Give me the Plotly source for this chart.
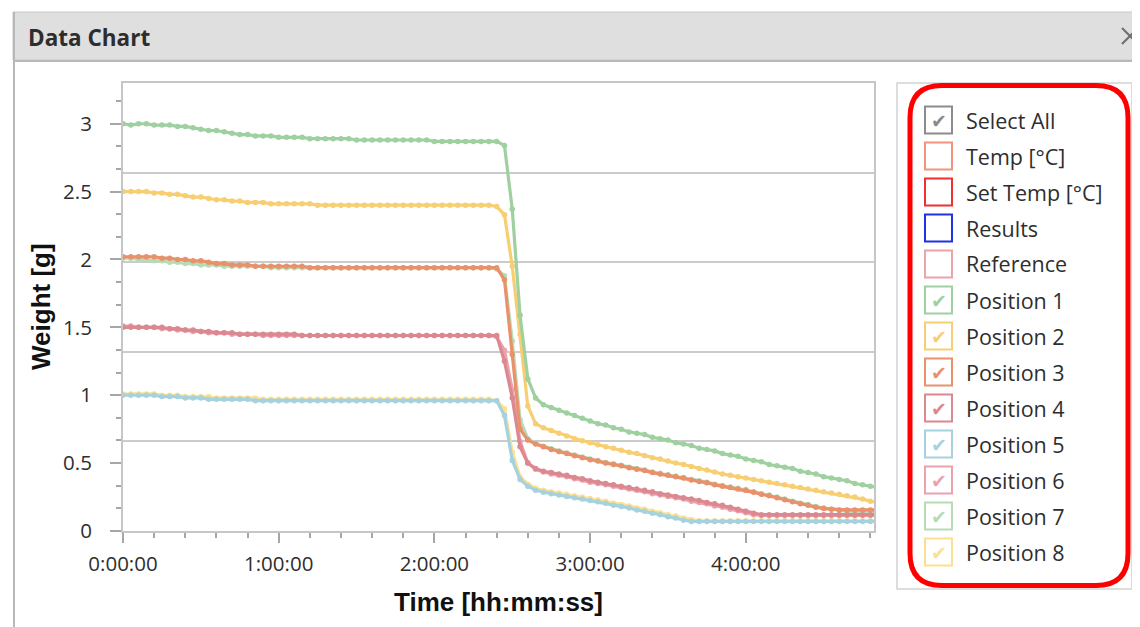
import pandas as pd
import plotly.graph_objects as go

# ---------------- data ----------------
TIME_MIN = [0, 3, 6, 9, 12, 15, 18, 21, 24, 27, 30, 33, 36, 39, 42, 45, 48, 51, 54, 57,
            60, 63, 66, 69, 72, 75, 78, 81, 84, 87, 90, 93, 96, 99, 102, 105, 108, 111, 114, 117,
            120, 123, 126, 129, 132, 135, 138, 141, 144, 147, 150, 153, 156, 159, 162, 165, 168, 171, 174, 177,
            180, 183, 186, 189, 192, 195, 198, 201, 204, 207, 210, 213, 216, 219, 222, 225, 228, 231, 234, 237,
            240, 243, 246, 249, 252, 255, 258, 261, 264, 267, 270, 273, 276, 279, 282, 285, 288, 291]

POS1 = [3.00, 2.99, 3.00, 3.00, 2.99, 2.99, 2.99, 2.98, 2.98, 2.97, 2.96, 2.95, 2.95, 2.94, 2.93, 2.92, 2.92, 2.91, 2.91, 2.91,
        2.90, 2.90, 2.90, 2.90, 2.89, 2.89, 2.89, 2.89, 2.89, 2.89, 2.88, 2.88, 2.88, 2.88, 2.88, 2.88, 2.88, 2.88, 2.88, 2.88,
        2.87, 2.87, 2.87, 2.87, 2.87, 2.87, 2.87, 2.87, 2.87,
        2.84, 2.37, 1.59, 1.12, 0.98, 0.93,
        0.91, 0.89, 0.87, 0.85, 0.83, 0.81, 0.79, 0.78, 0.76, 0.75, 0.73, 0.72, 0.71, 0.69, 0.68, 0.67, 0.65, 0.64, 0.63, 0.61,
        0.60, 0.59, 0.57, 0.56, 0.55, 0.53, 0.52, 0.51, 0.49, 0.48, 0.47, 0.46, 0.44, 0.43, 0.42, 0.40, 0.39, 0.38, 0.37, 0.35,
        0.34, 0.33, 0.32]

POS2 = [2.50, 2.50, 2.50, 2.50, 2.49, 2.49, 2.48, 2.48, 2.47, 2.46, 2.46, 2.45, 2.44, 2.44, 2.43, 2.43, 2.42, 2.42, 2.42, 2.41,
        2.41, 2.41, 2.41, 2.41, 2.41, 2.40, 2.40, 2.40, 2.40, 2.40, 2.40, 2.40, 2.40, 2.40, 2.40, 2.40, 2.40, 2.40, 2.40, 2.40,
        2.40, 2.40, 2.40, 2.40, 2.40, 2.40, 2.40, 2.40, 2.39,
        2.33, 1.95, 1.45, 0.92, 0.79, 0.76,
        0.74, 0.72, 0.70, 0.68, 0.665, 0.65, 0.635, 0.62, 0.61, 0.595, 0.58, 0.57, 0.555, 0.54, 0.53, 0.515, 0.50, 0.49, 0.475, 0.46,
        0.45, 0.435, 0.42, 0.41, 0.40, 0.39, 0.38, 0.37, 0.36, 0.35, 0.34, 0.33, 0.32, 0.31, 0.30, 0.29, 0.28, 0.27, 0.26, 0.25,
        0.235, 0.22, 0.21]

POS3 = [2.02, 2.02, 2.02, 2.02, 2.02, 2.01, 2.01, 2.00, 2.00, 1.99, 1.99, 1.98, 1.97, 1.97, 1.96, 1.96, 1.96, 1.95, 1.95, 1.95,
        1.95, 1.95, 1.95, 1.95, 1.94, 1.94, 1.94, 1.94, 1.94, 1.94, 1.94, 1.94, 1.94, 1.94, 1.94, 1.94, 1.94, 1.94, 1.94, 1.94,
        1.94, 1.94, 1.94, 1.94, 1.94, 1.94, 1.94, 1.94, 1.94,
        1.85, 1.30, 0.75, 0.67, 0.64, 0.62,
        0.60, 0.585, 0.57, 0.555, 0.54, 0.525, 0.515, 0.50, 0.49, 0.48, 0.465, 0.455, 0.445, 0.43, 0.42, 0.41, 0.40, 0.39, 0.375, 0.365,
        0.355, 0.34, 0.33, 0.32, 0.31, 0.30, 0.285, 0.27, 0.26, 0.245, 0.23, 0.215, 0.20, 0.19, 0.175, 0.165, 0.16, 0.155, 0.155, 0.155,
        0.155, 0.155, 0.155]

POS4 = [1.50, 1.50, 1.50, 1.50, 1.50, 1.50, 1.49, 1.49, 1.48, 1.48, 1.47, 1.47, 1.46, 1.46, 1.46, 1.45, 1.45, 1.45, 1.45, 1.45,
        1.45, 1.45, 1.45, 1.44, 1.44, 1.44, 1.44, 1.44, 1.44, 1.44, 1.44, 1.44, 1.44, 1.44, 1.44, 1.44, 1.44, 1.44, 1.44, 1.44,
        1.44, 1.44, 1.44, 1.44, 1.44, 1.44, 1.44, 1.44, 1.44,
        1.25, 0.98, 0.62, 0.50, 0.46, 0.44,
        0.43, 0.42, 0.41, 0.395, 0.385, 0.37, 0.36, 0.35, 0.34, 0.33, 0.32, 0.31, 0.30, 0.29, 0.275, 0.265, 0.255, 0.245, 0.235, 0.225,
        0.21, 0.20, 0.19, 0.175, 0.16, 0.145, 0.13, 0.12, 0.12, 0.12, 0.12, 0.12, 0.12, 0.12, 0.12, 0.12, 0.12, 0.12, 0.12, 0.12,
        0.12, 0.12, 0.12]

POS5 = [1.00, 1.00, 1.00, 1.00, 1.00, 0.99, 0.99, 0.99, 0.98, 0.98, 0.98, 0.97, 0.97, 0.97, 0.97, 0.97, 0.97, 0.96, 0.96, 0.96,
        0.96, 0.96, 0.96, 0.96, 0.96, 0.96, 0.96, 0.96, 0.96, 0.96, 0.96, 0.96, 0.96, 0.96, 0.96, 0.96, 0.96, 0.96, 0.96, 0.96,
        0.96, 0.96, 0.96, 0.96, 0.96, 0.96, 0.96, 0.96, 0.96,
        0.85, 0.52, 0.38, 0.33, 0.30, 0.285,
        0.275, 0.265, 0.255, 0.245, 0.235, 0.225, 0.215, 0.205, 0.19, 0.18, 0.17, 0.155, 0.145, 0.13, 0.12, 0.105, 0.095, 0.08, 0.07, 0.07,
        0.07, 0.07, 0.07, 0.07, 0.07, 0.07, 0.07, 0.07, 0.07, 0.07, 0.07, 0.07, 0.07, 0.07, 0.07, 0.07, 0.07, 0.07, 0.07, 0.07,
        0.07, 0.07, 0.07]

POS6 = [1.51, 1.51, 1.50, 1.50, 1.50, 1.49, 1.49, 1.48, 1.48, 1.47, 1.47, 1.46, 1.46, 1.46, 1.45, 1.45, 1.45, 1.45, 1.44, 1.44,
        1.44, 1.44, 1.44, 1.44, 1.44, 1.44, 1.44, 1.44, 1.44, 1.44, 1.44, 1.44, 1.44, 1.44, 1.44, 1.44, 1.44, 1.44, 1.44, 1.44,
        1.44, 1.44, 1.44, 1.44, 1.44, 1.44, 1.44, 1.44, 1.43,
        1.33, 1.04, 0.66, 0.50, 0.455, 0.435,
        0.42, 0.41, 0.40, 0.385, 0.375, 0.36, 0.35, 0.34, 0.33, 0.32, 0.31, 0.30, 0.29, 0.275, 0.265, 0.255, 0.245, 0.235, 0.22, 0.21,
        0.20, 0.185, 0.175, 0.16, 0.15, 0.135, 0.12, 0.115, 0.115, 0.115, 0.115, 0.115, 0.115, 0.115, 0.115, 0.115, 0.115, 0.115, 0.115, 0.115,
        0.115, 0.115, 0.115]

POS7 = [2.01, 2.01, 2.00, 2.00, 1.99, 1.99, 1.98, 1.98, 1.97, 1.97, 1.96, 1.96, 1.96, 1.95, 1.95, 1.95, 1.95, 1.95, 1.95, 1.94,
        1.94, 1.94, 1.94, 1.94, 1.94, 1.94, 1.94, 1.94, 1.94, 1.94, 1.94, 1.94, 1.94, 1.94, 1.94, 1.94, 1.94, 1.94, 1.94, 1.94,
        1.94, 1.94, 1.94, 1.94, 1.94, 1.94, 1.94, 1.94, 1.93,
        1.88, 1.40, 0.82, 0.68, 0.645, 0.625,
        0.605, 0.59, 0.575, 0.56, 0.545, 0.53, 0.52, 0.505, 0.495, 0.485, 0.47, 0.46, 0.45, 0.435, 0.425, 0.415, 0.405, 0.395, 0.38, 0.37,
        0.36, 0.345, 0.335, 0.325, 0.315, 0.305, 0.29, 0.275, 0.265, 0.25, 0.235, 0.22, 0.205, 0.195, 0.18, 0.17, 0.16, 0.15, 0.145, 0.145,
        0.145, 0.145, 0.145]

POS8 = [1.01, 1.01, 1.01, 1.01, 1.01, 1.00, 1.00, 1.00, 0.99, 0.99, 0.99, 0.99, 0.98, 0.98, 0.98, 0.98, 0.98, 0.98, 0.97, 0.97,
        0.97, 0.97, 0.97, 0.97, 0.97, 0.97, 0.97, 0.97, 0.97, 0.97, 0.97, 0.97, 0.97, 0.97, 0.97, 0.97, 0.97, 0.97, 0.97, 0.97,
        0.97, 0.97, 0.97, 0.97, 0.97, 0.97, 0.97, 0.97, 0.96,
        0.90, 0.58, 0.40, 0.345, 0.315, 0.30,
        0.29, 0.28, 0.27, 0.26, 0.25, 0.24, 0.23, 0.22, 0.205, 0.195, 0.185, 0.17, 0.16, 0.145, 0.135, 0.12, 0.11, 0.095, 0.085, 0.075,
        0.075, 0.075, 0.075, 0.075, 0.075, 0.075, 0.075, 0.075, 0.075, 0.075, 0.075, 0.075, 0.075, 0.075, 0.075, 0.075, 0.075, 0.075, 0.075, 0.075,
        0.075, 0.075, 0.075]

SERIES_NAMES = ["Position 1", "Position 2", "Position 3", "Position 4",
                "Position 5", "Position 6", "Position 7", "Position 8"]
SERIES_VALUES = [POS1, POS2, POS3, POS4, POS5, POS6, POS7, POS8]

LEGEND_LABELS = ["Select All", "Temp [°C]", "Set Temp [°C]", "Results", "Reference"] + SERIES_NAMES
LEGEND_CHECKED = [True, False, False, False, False] + [True] * 8

for v in SERIES_VALUES:
    assert len(v) == len(TIME_MIN), len(v)

# ---------------- styles ----------------
SERIES_COLORS = ["#9fd09f", "#f7cf72", "#e8916a", "#dc8890",
                 "#a6d1de", "#eca2ae", "#b6dcb6", "#fbe090"]
LEGEND_BOX_COLORS = ["#8c8c8c", "#f4937c", "#f23030", "#2030e8", "#eca4ac"] + SERIES_COLORS
LEGEND_CHECK_COLORS = ["#8a8a8a", None, None, None, None] + SERIES_COLORS

FONT = "Open Sans"
# screen coordinates of the plot area (page body adds an 8px offset)
OFF = 8
L, R, T, B = 123, 874, 83, 531
FW, FH = 1140, 627


def PX(x):
    return (x - L) / (R - L)


def PY(y):
    return (B - y) / (B - T)


times = pd.to_datetime(TIME_MIN, unit="m")

fig = go.Figure()

# helper trace so the secondary (grid) axis exists
fig.add_trace(go.Scatter(x=[times[0]], y=[None], yaxis="y2", showlegend=False,
                         hoverinfo="skip", mode="lines"))

# draw in reverse order so lower positions sit on top
for name, vals, col in reversed(list(zip(SERIES_NAMES, SERIES_VALUES, SERIES_COLORS))):
    fig.add_trace(go.Scatter(
        x=times, y=vals, name=name, mode="lines+markers",
        line=dict(color=col, width=3.2),
        marker=dict(color=col, size=5.5, line=dict(width=0)),
        showlegend=False,
    ))

shapes = []
annotations = []

def line_px(x0, y0, x1, y1, color, width):
    shapes.append(dict(type="line", xref="paper", yref="paper",
                       x0=PX(x0), y0=PY(y0), x1=PX(x1), y1=PY(y1),
                       line=dict(color=color, width=width)))

def rect_px(x0, y0, x1, y1, fill, color=None, width=0, layer="above"):
    shapes.append(dict(type="rect", xref="paper", yref="paper", layer=layer,
                       x0=PX(x0), y0=PY(y0), x1=PX(x1), y1=PY(y1),
                       fillcolor=fill,
                       line=dict(color=color or fill, width=width)))

# window chrome
rect_px(13, 12, 1160, 60, "#dfdfdf", "#c9c9c9", 1)
line_px(13, 61, 1160, 61, "#b9b9b9", 2)
line_px(14, 12, 14, 640, "#b8b8b8", 2)
annotations.append(dict(xref="paper", yref="paper", x=PX(26), y=PY(37),
                        xanchor="left", yanchor="middle", showarrow=False,
                        text="<b>Data Chart</b>",
                        font=dict(family=FONT, size=22.5, color="#2d2d2d")))
line_px(1122, 28, 1138, 44, "#6e6e6e", 2)
line_px(1122, 44, 1138, 28, "#6e6e6e", 2)

# axis titles
annotations.append(dict(xref="paper", yref="paper", x=0.5, y=PY(602),
                        xanchor="center", yanchor="middle", showarrow=False,
                        text="<b>Time [hh:mm:ss]</b>",
                        font=dict(family="Liberation Sans", size=26, color="#111111")))
annotations.append(dict(xref="paper", yref="paper", x=PX(41), y=0.5,
                        xanchor="center", yanchor="middle", showarrow=False,
                        textangle=-90, text="<b>Weight [g]</b>",
                        font=dict(family="Liberation Sans", size=26, color="#111111")))

# legend panel
rect_px(897, 83, 1132, 589, "#ffffff", "#d2d2d2", 1.5)
for i, (lab, bc, cc, chk) in enumerate(zip(LEGEND_LABELS, LEGEND_BOX_COLORS,
                                            LEGEND_CHECK_COLORS, LEGEND_CHECKED)):
    cy = 120 + 36 * i
    rect_px(925, cy - 13.5, 952, cy + 13.5, "rgba(255,255,255,0)", bc, 2)
    if chk:
        annotations.append(dict(xref="paper", yref="paper", x=PX(938.5), y=PY(cy + 1),
                                xanchor="center", yanchor="middle", showarrow=False,
                                text="✔", font=dict(family="DejaVu Sans", size=19, color=cc)))
    annotations.append(dict(xref="paper", yref="paper", x=PX(964), y=PY(cy),
                            xanchor="left", yanchor="middle", showarrow=False,
                            text=lab, font=dict(family=FONT, size=21.5, color="#2e2e2e")))

# red rounded highlight
def rrect_path(x0, y0, x1, y1, r):
    p = lambda x, y: f"{PX(x):.5f},{PY(y):.5f}"
    return (f"M {p(x0 + r, y0)} L {p(x1 - r, y0)} Q {p(x1, y0)} {p(x1, y0 + r)} "
            f"L {p(x1, y1 - r)} Q {p(x1, y1)} {p(x1 - r, y1)} "
            f"L {p(x0 + r, y1)} Q {p(x0, y1)} {p(x0, y1 - r)} "
            f"L {p(x0, y0 + r)} Q {p(x0, y0)} {p(x0 + r, y0)} Z")

shapes.append(dict(type="path", xref="paper", yref="paper",
                   path=rrect_path(910, 85.5, 1128, 585.5, 32),
                   line=dict(color="#ff0000", width=5)))

AX_LINE = "#c6c6c6"
TICK_C = "#a6a6a6"

fig.update_layout(
    width=FW, height=FH,
    margin=dict(l=L - OFF, r=FW - (R - OFF), t=T - OFF, b=FH - (B - OFF), pad=0),
    paper_bgcolor="#ffffff", plot_bgcolor="#ffffff",
    showlegend=False,
    font=dict(family=FONT, size=20, color="#333333"),
    xaxis=dict(
        range=[pd.Timestamp("1970-01-01 00:00:00"), pd.Timestamp("1970-01-01 04:49:24")],
        type="date", tickformat="%-H:%M:%S",
        tick0="1970-01-01 00:00:00", dtick=3600000,
        ticks="outside", ticklen=10, tickwidth=1.5, tickcolor=TICK_C,
        minor=dict(dtick=720000, tick0="1970-01-01 00:00:00", ticks="outside",
                   ticklen=5, tickwidth=1.5, tickcolor=TICK_C, showgrid=False),
        showgrid=False, zeroline=False,
        showline=True, linecolor=AX_LINE, linewidth=2, mirror=True,
        tickfont=dict(family=FONT, size=20.5, color="#2e2e2e"),
        ticklabelstandoff=3,
    ),
    yaxis=dict(
        range=[0, 3.3], tick0=0, dtick=0.5,
        ticks="outside", ticklen=11, tickwidth=1.5, tickcolor=TICK_C,
        minor=dict(tick0=0, dtick=0.5 / 3, ticks="outside", ticklen=5,
                   tickwidth=1.5, tickcolor=TICK_C, showgrid=False),
        showgrid=False, zeroline=False,
        showline=True, linecolor=AX_LINE, linewidth=2, mirror=True,
        tickfont=dict(family=FONT, size=20.5, color="#2e2e2e"),
        ticklabelstandoff=14,
    ),
    yaxis2=dict(
        overlaying="y", side="right", range=[0, 5], tick0=0, dtick=1,
        showgrid=True, gridcolor="#cbcbcb", gridwidth=2,
        showticklabels=False, ticks="", zeroline=False, showline=False,
    ),
    shapes=shapes,
    annotations=annotations,
)

fig.write_html("out.html")
